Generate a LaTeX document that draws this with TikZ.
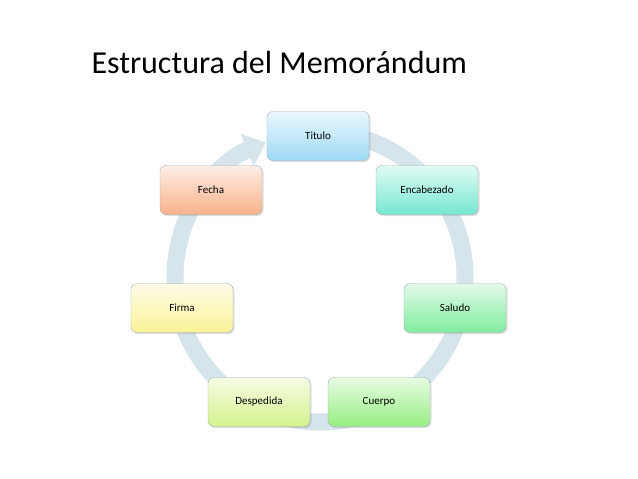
\documentclass[tikz,border=0pt]{standalone}
\usepackage{fontspec}
\setmainfont{Carlito}
\usetikzlibrary{arrows.meta,shadows}

\definecolor{ringblue}{RGB}{214,228,236}
\definecolor{boxline}{RGB}{160,175,180}
\definecolor{tituloc}{RGB}{158,218,245}
\definecolor{encabc}{RGB}{118,232,208}
\definecolor{saludoc}{RGB}{128,236,158}
\definecolor{cuerpoc}{RGB}{150,238,130}
\definecolor{despc}{RGB}{212,242,140}
\definecolor{firmac}{RGB}{250,242,150}
\definecolor{fechac}{RGB}{248,178,138}

\begin{document}
\begin{tikzpicture}[x=1pt,y=1pt,
stepbox/.style={
  draw=boxline,
  rounded corners=6pt,
  minimum width=102pt,
  minimum height=49pt,
  font=\fontsize{11}{13}\selectfont,
  drop shadow={opacity=0.25,shadow xshift=1.5pt,shadow yshift=-1.5pt}
},
tone/.style={top color=#1!22!white,bottom color=#1}
]
\useasboundingbox (0,0) rectangle (638,-479);

\node[anchor=west,font=\fontsize{32}{36}\selectfont] (title) at (88,-63) {Estructura del Memorándum};

\coordinate (center) at (320,-277);

% ring
\draw[ringblue,line width=17pt,-{Triangle[width=34pt,length=20pt]}]
  ([shift={(85:145)}]center) arc[start angle=85,end angle=-248,radius=145];

% boxes
\node[stepbox,tone=tituloc] (titulo) at (318,-136) {Titulo};
\node[stepbox,tone=encabc] (encabezado) at (427,-190) {Encabezado};
\node[stepbox,tone=saludoc] (saludo) at (455,-308) {Saludo};
\node[stepbox,tone=cuerpoc] (cuerpo) at (379,-402) {Cuerpo};
\node[stepbox,tone=despc] (despedida) at (259,-402) {Despedida};
\node[stepbox,tone=firmac] (firma) at (182,-308) {Firma};
\node[stepbox,tone=fechac] (fecha) at (211,-190) {Fecha};

\end{tikzpicture}
\end{document}
